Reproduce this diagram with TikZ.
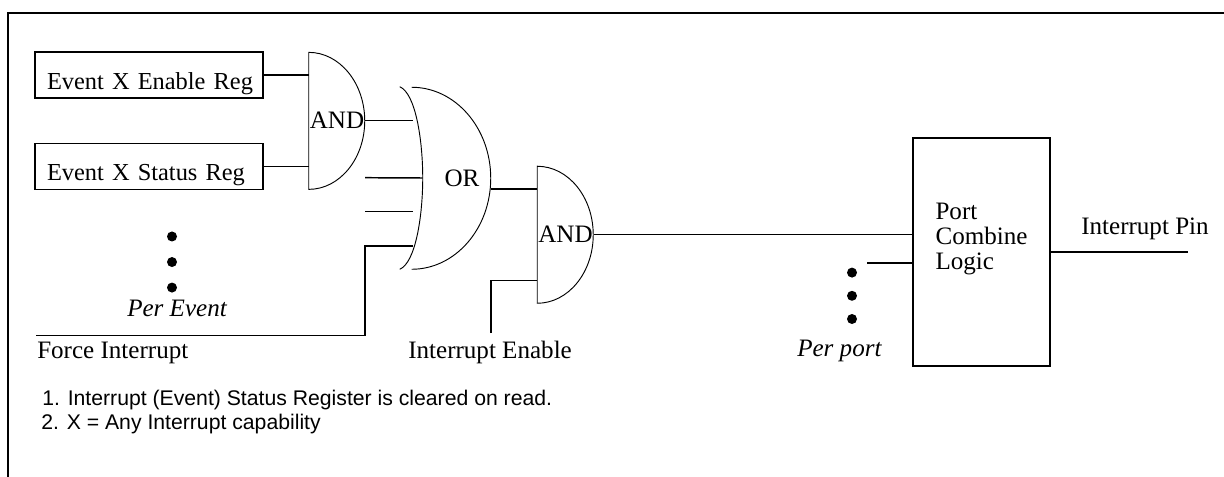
\documentclass[tikz,border=0pt]{standalone}
\usepackage{fontspec}
\setmainfont{Liberation Serif}
\newfontfamily\notefont{Liberation Sans}
\usetikzlibrary{positioning}
\tikzset{
    %Define style for boxes
    regbox/.style={
           rectangle,
           draw=black, line width=1pt,
           minimum height=34.5pt,
           text width=157pt,
           inner xsep=7pt,
           inner ysep=0pt,
           text height=21.5pt,
           text depth=0pt,
           align=left,
           execute at begin node=\hspace*{2pt},
           font=\fontsize{18.3pt}{18.75pt}\selectfont},
    portbox/.style={
           rectangle,
           draw=black, line width=1pt,
           minimum width=102.75pt,
           minimum height=171pt,
           inner sep=0pt,
           text depth=24pt,
           align=left,
           font=\fontsize{18.8pt}{18.75pt}\selectfont},
    andgate/.style={
           rectangle,
           minimum width=42pt,
           minimum height=102.75pt,
           inner sep=0pt,
           font=\fontsize{18.8pt}{18.75pt}\selectfont},
    orgate/.style={
           rectangle,
           minimum width=58.5pt,
           minimum height=136.5pt,
           inner sep=0pt,
           font=\fontsize{18.8pt}{18.75pt}\selectfont},
    dotmark/.style={
           circle,
           fill=black,
           minimum size=7.5pt,
           inner sep=0pt},
    lbl/.style={
           anchor=base west,
           inner sep=0pt,
           font=\fontsize{18.8pt}{18.75pt}\selectfont},
    note/.style={
           anchor=base west,
           inner sep=0pt,
           font=\notefont\fontsize{15.9pt}{18pt}\selectfont},
    % Define line styles
    wire/.style={line width=1.1pt},
    gateline/.style={line width=.7pt}
}
\begin{document}
\begin{tikzpicture}[x=.75pt,y=-.75pt]
\useasboundingbox (0,0) rectangle (1224,477);

 %frame
\draw[wire] (8,477) -- (8,13) -- (1224,13);

 %nodes
\node[regbox](enable) at (149,75){Event X Enable Reg};
\node[regbox](status) at (149,166.5){Event X Status Reg};
\node[andgate](and1) at (337,120.6){AND};
\node[orgate](or1) at (462,178){OR};
\node[andgate](and2) at (565.5,234.5){AND};
\node[portbox](port) at (981.5,252){Port\\Combine\\Logic};

\node[dotmark](evdot1) at (172,236.5){};
\node[dotmark, below=11.25pt of evdot1](evdot2){};
\node[dotmark, below=11.25pt of evdot2](evdot3){};
\node[dotmark](portdot1) at (852,272.6){};
\node[dotmark, below=9.5pt of portdot1](portdot2){};
\node[dotmark, below=9.5pt of portdot2](portdot3){};

\node[lbl, font=\fontsize{18.8pt}{18.75pt}\selectfont\itshape](perevent) at (127,316.5){Per Event};
\node[lbl, font=\fontsize{18.8pt}{18.75pt}\selectfont\itshape](perport) at (797,356){Per port};
\node[lbl](force) at (37,358.5){Force Interrupt};
\node[lbl](intenable) at (408,358.5){Interrupt Enable};
\node[lbl](intpin) at (1081,235){Interrupt Pin};
\node[note](note1) at (42,405){1. Interrupt (Event) Status Register is cleared on read.};
\node[note](note2) at (41,429){2. X = Any Interrupt capability};

 %gates
\draw[gateline] (and1.north west) -- (and1.south west)
    arc[start angle=-90,end angle=90,x radius=42pt,y radius=51.375pt] -- cycle;
\draw[gateline] (and2.north west) -- (and2.south west)
    arc[start angle=-90,end angle=90,x radius=42pt,y radius=51.375pt] -- cycle;
\coordinate (orback) at ([xshift=-17.25pt]or1.north west);
\coordinate (orfront) at ([xshift=-8.25pt]or1.south west);
\draw[gateline] (orfront) arc[start angle=-90,end angle=90,x radius=59.25pt,y radius=68.25pt];
\draw[gateline] (orback) .. controls ++(12pt,-5pt) and ([yshift=28pt]or1.west) .. (or1.west)
    .. controls ([yshift=-28pt]or1.west) and ([xshift=-5.25pt,yshift=5pt]or1.south west) .. ([xshift=-17.25pt]or1.south west);

 %free ends
\coordinate (in2) at (365,177.7);
\coordinate (in3) at (365,211.7);
\coordinate (in3e) at (413,211.7);
\coordinate (in4) at (413,246);
\coordinate (in1e) at (413,120.6);
\coordinate (orout) at (491,189);
\coordinate (forcestart) at (36,335.7);
\coordinate (enstart) at (491,333);
\coordinate (portline) at (867,263);
\coordinate (pinend) at (1188,252);

 %connectors
\draw[wire] (enable.east) -- (and1.west |- enable.east);
\draw[wire] (status.east) -- (and1.west |- status.east);
\draw[wire] (and1.east) -- (in1e);
\draw[wire] (in2) -- (or1.west);
\draw[wire] (in3) -- (in3e);
\draw[wire] (forcestart) -| (in3 |- in4) -- (in4);
\draw[wire] (orout) -- (and2.west |- orout);
\draw[wire] (enstart) |- (and2.west |- 0,280.7);
\draw[wire] (and2.east) -- (port.west |- and2.east);
\draw[wire] (portline) -- (port.west |- portline);
\draw[wire] (port.east) -- (pinend);

\end{tikzpicture}
\end{document}
